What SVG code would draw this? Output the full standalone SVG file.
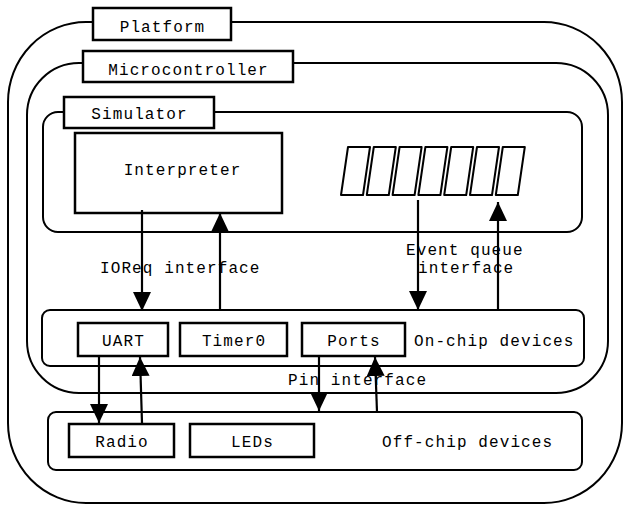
<svg xmlns="http://www.w3.org/2000/svg" width="626" height="506" viewBox="0 0 626 506">
<defs>
<style>
.c{fill:none;stroke:#000;stroke-width:2}
.b{fill:#fff;stroke:#000;stroke-width:2.5}
.t{font-family:"Liberation Mono","Courier New",monospace;font-size:16px;letter-spacing:1.1px;fill:#000}
.m{text-anchor:middle}
.q{fill:none;stroke:#000;stroke-width:2;stroke-linejoin:round}
.a{fill:none;stroke:#000;stroke-width:2.2;marker-end:url(#ah)}
</style>
<marker id="ah" markerUnits="userSpaceOnUse" markerWidth="22" markerHeight="22" refX="19" refY="9" orient="auto">
<path d="M0,0 L19,9 L0,18 z" fill="#000"/>
</marker>
</defs>
<rect width="626" height="506" fill="#fff"/>
<g id="platform">
<rect class="c" x="8" y="22" width="614" height="481" rx="78" ry="80"/>
<rect class="b" x="93" y="8" width="138" height="32"/>
<text class="t m" x="162.5" y="31.5">Platform</text>
</g>
<g id="microcontroller">
<rect class="c" x="27" y="63" width="581" height="330" rx="52" ry="52"/>
<rect class="b" x="83" y="51" width="210" height="31"/>
<text class="t m" x="188.5" y="74.5">Microcontroller</text>
</g>
<g id="simulator">
<rect class="c" x="43" y="112" width="539" height="120" rx="15" ry="15"/>
<rect class="b" x="64" y="97" width="150" height="31"/>
<text class="t m" x="139.5" y="119">Simulator</text>
</g>
<g id="interpreter">
<rect class="b" x="75" y="133" width="207" height="80"/>
<text class="t m" x="182.5" y="175">Interpreter</text>
</g>
<g id="event-queue">
<path class="q" d="M341,195 L348,147 L370,147 L363,195 Z"/>
<path class="q" d="M366.8,195 L373.8,147 L395.8,147 L388.8,195 Z"/>
<path class="q" d="M392.6,195 L399.6,147 L421.6,147 L414.6,195 Z"/>
<path class="q" d="M418.4,195 L425.4,147 L447.4,147 L440.4,195 Z"/>
<path class="q" d="M444.2,195 L451.2,147 L473.2,147 L466.2,195 Z"/>
<path class="q" d="M470,195 L477,147 L499,147 L492,195 Z"/>
<path class="q" d="M495.8,195 L502.8,147 L524.8,147 L517.8,195 Z"/>
</g>
<g id="on-chip">
<rect class="c" x="42" y="310" width="542" height="56" rx="8" ry="8"/>
<text class="t" x="414" y="346">On-chip devices</text>
</g>
<g id="uart">
<rect class="b" x="78" y="323" width="90" height="33"/>
<text class="t m" x="123.5" y="346">UART</text>
</g>
<g id="timer0">
<rect class="b" x="180" y="323" width="107" height="33"/>
<text class="t m" x="234" y="346">Timer0</text>
</g>
<g id="ports">
<rect class="b" x="302" y="323" width="103" height="33"/>
<text class="t m" x="354" y="346">Ports</text>
</g>
<g id="off-chip">
<rect class="c" x="48" y="412" width="534" height="58" rx="8" ry="8"/>
<text class="t" x="382" y="447">Off-chip devices</text>
</g>
<g id="radio">
<rect class="b" x="69" y="424" width="105" height="33"/>
<text class="t m" x="122" y="447">Radio</text>
</g>
<g id="leds">
<rect class="b" x="190" y="424" width="124" height="33"/>
<text class="t m" x="252.5" y="447">LEDs</text>
</g>
<g id="connectors">
<line class="a" x1="142" y1="210" x2="142" y2="311"/>
<line class="a" x1="220" y1="310" x2="220" y2="213"/>
<line class="a" x1="418" y1="200" x2="418" y2="310"/>
<line class="a" x1="498" y1="310" x2="498" y2="202"/>
<line class="a" x1="99" y1="356" x2="99" y2="423"/>
<line class="a" x1="142" y1="423" x2="140" y2="357"/>
<line class="a" x1="319" y1="356" x2="319" y2="411"/>
<line class="a" x1="377" y1="412" x2="375" y2="357"/>
<text class="t" x="100" y="273">IOReq interface</text>
<text class="t" x="406" y="255">Event queue</text>
<text class="t" x="418" y="273">interface</text>
<text class="t" x="288" y="385">Pin interface</text>
</g>
</svg>
